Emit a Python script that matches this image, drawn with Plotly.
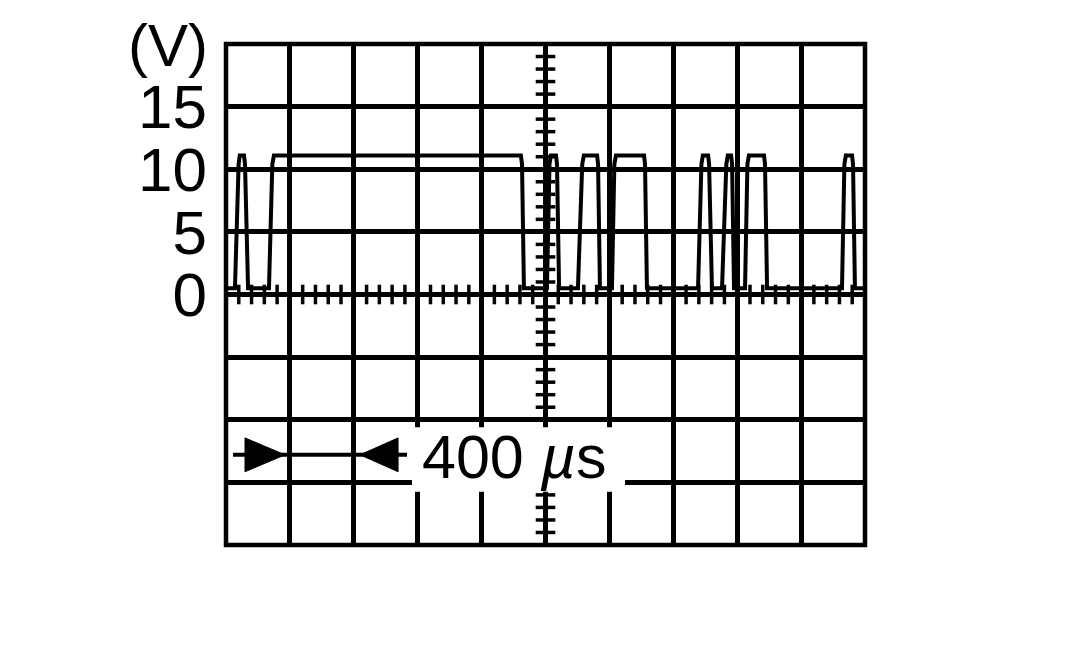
import plotly.graph_objects as go

# scope trace: time in microseconds, level in volts
time_us = [0,
           56, 79, 86, 113, 119, 138,
           269, 290, 300, 1846, 1853, 1865,
           2009, 2025, 2034, 2066, 2072, 2085,
           2203, 2230, 2240, 2323, 2329, 2341,
           2416, 2431, 2441, 2617, 2623, 2635,
           2955, 2976, 2985, 3018, 3024, 3042,
           3105, 3132, 3141, 3162, 3168, 3180,
           3249, 3264, 3273, 3368, 3374, 3387,
           3856, 3871, 3880, 3919, 3925, 3937,
           4000]
volts = [0.5,
         0.5, 10.4, 11.1, 11.1, 10.4, 0.5,
         0.5, 10.4, 11.1, 11.1, 10.4, 0.5,
         0.5, 10.4, 11.1, 11.1, 10.4, 0.5,
         0.5, 10.4, 11.1, 11.1, 10.4, 0.5,
         0.5, 10.4, 11.1, 11.1, 10.4, 0.5,
         0.5, 10.4, 11.1, 11.1, 10.4, 0.5,
         0.5, 10.4, 11.1, 11.1, 10.4, 0.5,
         0.5, 10.4, 11.1, 11.1, 10.4, 0.5,
         0.5, 10.4, 11.1, 11.1, 10.4, 0.5,
         0.5]

# screen: 10 divisions of 400 us, 8 divisions of 5 V
x_div = 400
y_div = 5
y_tickvals = [-15, -10, -5, 0, 5, 10, 15]
y_ticktext = ['', '', '', '0', '5', '10', '15']
time_label = '400 <i>µ</i>s'

FONT = 'Arial, Liberation Sans, sans-serif'
x_max = 10 * x_div
y_max = 4 * y_div

fig = go.Figure()

# minor ticks on the centre cross (5 per division)
fig.add_trace(go.Scatter(
    x=[i * x_div / 5 for i in range(51)], y=[0] * 51,
    mode='markers', hoverinfo='skip', showlegend=False,
    marker=dict(symbol='line-ns', size=14, line=dict(color='black', width=3.5))
))
fig.add_trace(go.Scatter(
    x=[x_max / 2] * 41, y=[i * y_div / 5 - y_max for i in range(41)],
    mode='markers', hoverinfo='skip', showlegend=False,
    marker=dict(symbol='line-ew', size=14, line=dict(color='black', width=3.5))
))

# the signal
fig.add_trace(go.Scatter(
    x=time_us, y=volts, mode='lines', showlegend=False,
    line=dict(color='black', width=4)
))

# scale marker: one division = 400 us
arrow_y = -12.8
shapes = [
    dict(type='rect', xref='paper', yref='paper', x0=0, x1=1, y0=0, y1=1,
         line=dict(color='black', width=4.5)),
    dict(type='line', x0=44, x1=1133, y0=arrow_y, y1=arrow_y,
         line=dict(color='black', width=4)),
    dict(type='path', path='M 119,-11.45 L 369,-12.8 L 119,-14.15 Z',
         fillcolor='black', line=dict(color='black', width=1)),
    dict(type='path', path='M 1077,-11.45 L 839,-12.8 L 1077,-14.15 Z',
         fillcolor='black', line=dict(color='black', width=1)),
    # white patch behind the time label
    dict(type='rect', x0=1164, x1=2498, y0=-15.75, y1=-10.6, layer='above',
         fillcolor='white', line=dict(width=0)),
]

fig.update_layout(
    width=1079, height=653,
    margin=dict(l=218, r=222, t=36, b=116),
    plot_bgcolor='white', paper_bgcolor='white',
    font=dict(family=FONT, color='black', size=60),
    xaxis=dict(range=[0, x_max], tickvals=[i * x_div for i in range(11)],
               showticklabels=False, showgrid=True, gridcolor='black',
               gridwidth=4.5, zeroline=False, showline=False, ticks=''),
    yaxis=dict(range=[-y_max, y_max], tickvals=y_tickvals, ticktext=y_ticktext,
               showgrid=True, gridcolor='black', gridwidth=4.5,
               zeroline=False, showline=False, ticks='',
               ticklabelstandoff=18, tickfont=dict(size=62, family=FONT)),
    shapes=shapes,
    annotations=[
        dict(text='(V)', xref='paper', yref='paper', x=0, y=1, xshift=-16,
             yshift=-1, xanchor='right', yanchor='middle', showarrow=False,
             font=dict(size=60, family=FONT)),
        dict(text=time_label, x=1803, y=-13.0, xref='x', yref='y',
             showarrow=False, font=dict(size=61, family=FONT)),
    ],
)

fig.write_html('out.html')
